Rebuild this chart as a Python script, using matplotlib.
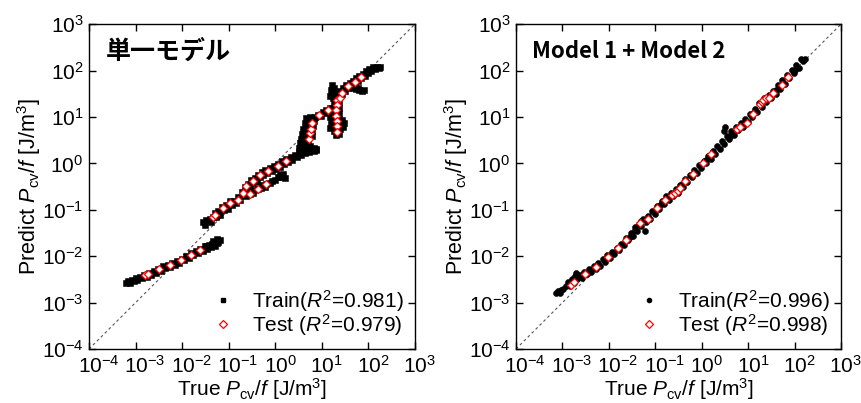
import numpy as np
import matplotlib
matplotlib.use("Agg")
import matplotlib.pyplot as plt
from matplotlib.lines import Line2D
from matplotlib.ticker import LogLocator, NullLocator
from matplotlib.transforms import ScaledTranslation

plt.rcParams['font.family'] = ['Liberation Sans', 'Noto Sans CJK JP']
plt.rcParams['mathtext.fontset'] = 'custom'
plt.rcParams['mathtext.rm'] = 'Liberation Sans'
plt.rcParams['mathtext.it'] = 'Liberation Sans:italic'
plt.rcParams['mathtext.bf'] = 'Liberation Sans:bold'
plt.rcParams['axes.unicode_minus'] = False

# ---------------------------------------------------------------------------
# data as (log10 true, log10 predict) pairs
# ---------------------------------------------------------------------------

# left panel (single model), train points: low band
left_train_low = [
    (-3.20, -2.57), (-3.16, -2.53), (-3.12, -2.58), (-3.08, -2.51), (-3.04, -2.54),
    (-3.00, -2.48), (-2.96, -2.52), (-2.91, -2.44), (-2.86, -2.48), (-2.81, -2.40),
    (-2.76, -2.44), (-2.71, -2.36), (-2.66, -2.40), (-2.61, -2.32), (-2.56, -2.36),
    (-2.51, -2.28), (-2.46, -2.31), (-2.41, -2.22), (-2.36, -2.26), (-2.31, -2.18),
    (-2.26, -2.23), (-2.21, -2.14), (-2.16, -2.19), (-2.11, -2.10), (-2.06, -2.14),
    (-2.01, -2.05), (-1.96, -2.09), (-1.91, -2.00), (-1.86, -2.03), (-1.81, -1.94),
    (-1.76, -1.98), (-1.71, -1.89), (-1.66, -1.93), (-1.61, -1.84), (-1.56, -1.88),
    (-1.51, -1.79), (-1.47, -1.84), (-1.43, -1.75), (-1.39, -1.80), (-1.35, -1.74),
    (-1.30, -1.77), (-1.26, -1.71), (-1.22, -1.69), (-1.19, -1.65), (-1.30, -1.70),
    (-1.48, -1.79), (-1.34, -1.68), (-1.26, -1.64),
]

# left panel, train points: middle band with its lower branch
left_train_mid = [
    (-1.55, -1.26), (-1.51, -1.33), (-1.48, -1.22), (-1.41, -1.19), (-1.34, -1.15),
    (-1.37, -1.26), (-1.30, -1.06), (-1.27, -1.15), (-1.23, -1.03), (-1.19, -1.11),
    (-1.14, -0.93), (-1.10, -1.01), (-1.05, -0.90), (-1.01, -0.98), (-0.97, -0.81),
    (-0.93, -0.90), (-0.88, -0.80), (-0.84, -0.86), (-0.80, -0.73), (-0.76, -0.78),
    (-0.72, -0.62), (-0.69, -0.68), (-0.65, -0.50), (-0.62, -0.56), (-0.58, -0.44),
    (-0.55, -0.50), (-0.51, -0.36), (-0.48, -0.42), (-0.44, -0.31), (-0.40, -0.37),
    (-0.36, -0.24), (-0.33, -0.30), (-0.29, -0.19), (-0.26, -0.26), (-0.21, -0.14),
    (-0.17, -0.21), (-0.12, -0.10), (-0.08, -0.16), (-0.03, -0.06), (0.01, -0.12),
    (0.06, -0.01), (0.10, -0.07), (0.15, 0.05), (0.19, -0.02), (0.24, 0.10),
    (0.28, 0.03), (0.33, 0.14), (0.37, 0.08), (0.42, 0.19), (0.46, 0.13),
    (0.51, 0.25), (0.55, 0.17), (0.60, 0.29), (0.64, 0.22), (0.69, 0.31),
    (0.73, 0.25), (0.78, 0.32), (0.83, 0.26), (0.87, 0.29),
    # lower branch
    (-0.69, -0.65), (-0.62, -0.70), (-0.55, -0.66), (-0.48, -0.63), (-0.37, -0.56),
    (-0.30, -0.52), (-0.19, -0.45), (-0.12, -0.42), (-0.01, -0.36), (0.15, -0.29),
    (0.17, -0.22), (0.20, -0.32), (-0.60, -0.60), (-0.45, -0.58), (-0.33, -0.47),
    (-0.22, -0.50), (-0.08, -0.38), (0.05, -0.30), (0.10, -0.25),
]

# left panel, train points: steep rise, vertical drop and upper band
left_train_high = [
    (0.52, 0.33), (0.57, 0.38), (0.54, 0.44), (0.60, 0.48), (0.56, 0.53),
    (0.62, 0.58), (0.58, 0.63), (0.64, 0.68), (0.60, 0.74), (0.66, 0.80),
    (0.63, 0.86), (0.69, 0.91), (0.67, 0.97), (0.74, 1.00), (0.78, 0.58),
    (0.80, 0.70), (0.82, 0.80), (0.84, 0.92), (0.86, 1.00), (0.71, 0.44),
    (0.75, 0.37), (0.84, 0.33), (0.88, 0.30), (0.68, 0.52), (0.70, 0.62),
    (0.92, 1.05), (0.98, 1.02), (1.02, 1.10), (1.06, 1.08), (1.10, 1.15),
    (1.14, 1.12), (1.18, 1.19), (1.22, 1.16),
    # vertical drop near 20
    (1.24, 1.40), (1.27, 1.30), (1.25, 1.20), (1.27, 1.10), (1.25, 1.00),
    (1.27, 0.90), (1.25, 0.80), (1.27, 0.70), (1.38, 1.32), (1.37, 1.20),
    (1.38, 1.08), (1.37, 0.96), (1.38, 0.85), (1.40, 0.74), (1.36, 0.64),
    (1.45, 0.78), (1.47, 0.86), (1.44, 0.94), (1.18, 0.76), (1.20, 0.88),
    (1.17, 1.00), (1.21, 1.08), (1.30, 0.62), (1.34, 0.66),
    (1.18, 1.45), (1.20, 1.58), (1.22, 1.70), (1.26, 1.62), (1.28, 1.52),
    (1.30, 1.42), (1.24, 1.50),
    # upper band
    (1.34, 1.50), (1.37, 1.44), (1.40, 1.56), (1.43, 1.50), (1.46, 1.62),
    (1.50, 1.56), (1.53, 1.68), (1.57, 1.62), (1.60, 1.74), (1.64, 1.68),
    (1.67, 1.78), (1.71, 1.73), (1.74, 1.83), (1.78, 1.78), (1.81, 1.88),
    (1.85, 1.83), (1.88, 1.93), (1.92, 1.88), (1.95, 1.99), (1.99, 1.94),
    (2.02, 2.04), (2.06, 2.00), (2.10, 2.08), (2.14, 2.03), (2.18, 2.08),
    (2.22, 2.05), (2.25, 2.07),
    (1.68, 1.62), (1.74, 1.60), (1.80, 1.58), (1.86, 1.57), (1.90, 1.59),
    (1.78, 1.63),
]

left_test = [
    (-2.80, -2.41), (-2.73, -2.38), (-2.50, -2.28), (-2.27, -2.20), (-2.02, -2.08),
    (-1.80, -1.98), (-1.62, -1.87),
    (-1.34, -1.15), (-1.30, -1.11), (-1.12, -0.97), (-0.98, -0.86), (-0.80, -0.78),
    (-0.62, -0.49), (-0.48, -0.37), (-0.33, -0.25), (-0.15, -0.16), (0.06, -0.06),
    (0.24, 0.06),
    (-0.69, -0.63), (-0.55, -0.66), (-0.37, -0.56), (-0.19, -0.45),
    (0.73, 0.52), (0.74, 0.65), (0.76, 0.75), (0.80, 0.86), (0.94, 1.04),
    (1.14, 1.15),
    (1.32, 1.36), (1.32, 1.25), (1.31, 1.14), (1.31, 1.03), (1.32, 0.92),
    (1.32, 0.81), (1.32, 0.68), (1.39, 1.40), (1.44, 1.52), (1.57, 1.66),
    (1.71, 1.76), (1.85, 1.87),
]

# right panel (Model 1 + Model 2)
right_train = [
    (-3.14, -2.80), (-3.10, -2.74), (-3.06, -2.79), (-3.02, -2.72), (-2.98, -2.70),
    (-2.93, -2.64), (-2.88, -2.56), (-2.84, -2.65), (-2.80, -2.50), (-2.76, -2.58),
    (-2.72, -2.43), (-2.68, -2.50), (-2.63, -2.40), (-2.58, -2.46), (-2.53, -2.33),
    (-2.48, -2.38), (-2.43, -2.28), (-2.38, -2.33), (-2.33, -2.22), (-2.28, -2.28),
    (-2.23, -2.15), (-2.18, -2.21), (-2.13, -2.06), (-2.08, -2.12), (-2.03, -1.98),
    (-1.98, -2.03), (-1.93, -1.90), (-1.88, -1.95), (-1.83, -1.82), (-1.78, -1.87),
    (-1.73, -1.73), (-1.68, -1.76), (-1.63, -1.61), (-1.58, -1.66), (-1.53, -1.50),
    (-1.48, -1.56), (-1.43, -1.38), (-1.40, -1.46), (-1.36, -1.30), (-1.31, -1.36),
    (-1.26, -1.20), (-1.22, -1.45), (-1.21, -1.27), (-1.16, -1.13), (-1.11, -1.19),
    (-1.06, -1.03), (-1.01, -1.08), (-0.96, -0.92), (-0.91, -0.98), (-0.86, -0.82),
    (-0.81, -0.87), (-0.76, -0.71), (-0.71, -0.78), (-0.66, -0.64), (-0.61, -0.70),
    (-0.56, -0.56), (-0.51, -0.63), (-0.46, -0.46), (-0.41, -0.51), (-0.36, -0.34),
    (-0.31, -0.40), (-0.26, -0.24), (-0.21, -0.30), (-0.16, -0.14), (-0.11, -0.20),
    (-0.06, -0.04), (-0.01, -0.09), (0.04, 0.06), (0.09, 0.00), (0.14, 0.16),
    (0.19, 0.10), (0.24, 0.27), (0.29, 0.21), (0.34, 0.37), (0.39, 0.31),
    (0.44, 0.48), (0.49, 0.42), (0.50, 0.79), (0.47, 0.70), (0.54, 0.59),
    (0.59, 0.53), (0.64, 0.69), (0.69, 0.62), (0.74, 0.78), (0.79, 0.71),
    (0.84, 0.86), (0.89, 0.79), (0.94, 0.95), (0.99, 0.89), (1.04, 1.07),
    (1.09, 1.00), (1.14, 1.17), (1.19, 1.11), (1.24, 1.30), (1.29, 1.22),
    (1.34, 1.40), (1.39, 1.33), (1.44, 1.47), (1.49, 1.41), (1.54, 1.56),
    (1.59, 1.50), (1.64, 1.68), (1.69, 1.61), (1.74, 1.79), (1.79, 1.71),
    (1.84, 1.90), (1.89, 1.83), (1.94, 2.01), (1.99, 1.95), (2.04, 2.12),
    (2.09, 2.06), (2.14, 2.24), (2.19, 2.20), (2.23, 2.25),
    (-1.44, -1.44), (-2.70, -2.37), (-1.55, -1.58), (-1.30, -1.25),
    (-0.90, -0.90), (-0.40, -0.42), (0.10, 0.08), (0.60, 0.60), (1.10, 1.08),
    (1.60, 1.58), (2.00, 2.02),
]

right_test = [
    (-2.81, -2.62), (-2.74, -2.55), (-2.52, -2.38), (-2.27, -2.23), (-2.02, -2.01),
    (-1.80, -1.83), (-1.62, -1.65), (-1.33, -1.28), (-1.15, -1.19), (-0.97, -0.97),
    (-0.79, -0.79), (-0.65, -0.68), (-0.58, -0.63), (-0.51, -0.59), (-0.47, -0.52),
    (-0.36, -0.37), (-0.18, -0.22), (0.03, 0.00), (0.21, 0.20), (0.75, 0.75),
    (0.82, 0.79), (0.97, 0.88), (1.11, 1.06), (1.26, 1.27), (1.30, 1.32),
    (1.33, 1.36), (1.38, 1.40), (1.44, 1.41), (1.54, 1.51), (1.72, 1.70),
    (1.85, 1.87),
]

left_title = "単一モデル"
right_title = "Model 1 + Model 2"
left_r2 = ("0.981", "0.979")
right_r2 = ("0.996", "0.998")


def to_xy(pairs):
    arr = np.power(10.0, np.array(pairs))
    return arr[:, 0], arr[:, 1]


def setup_axes(ax):
    ax.set_xscale("log")
    ax.set_yscale("log")
    ax.set_xlim(1e-4, 1e3)
    ax.set_ylim(1e-4, 1e3)
    for axis in (ax.xaxis, ax.yaxis):
        axis.set_major_locator(LogLocator(base=10, numticks=20))
        axis.set_minor_locator(NullLocator())
    ax.plot([1e-4, 1e3], [1e-4, 1e3], ls=(0, (2.5, 2.5)), color="#555555",
            lw=0.8, zorder=1)
    ax.tick_params(which="major", direction="in", top=True, right=True,
                   length=5, width=1, labelsize=15, pad=4)
    for s in ax.spines.values():
        s.set_linewidth(1.0)
    ax.set_xlabel(r"True $P_{\rm cv}/f$ [J/m$^3$]", fontsize=15, labelpad=-0.5)
    ax.set_ylabel(r"Predict $P_{\rm cv}/f$ [J/m$^3$]", fontsize=15.5, labelpad=-1)
    # centre the "10" of each x label on its tick, exponent hanging to the right
    shift = ScaledTranslation(-8.3 / 72, 0, fig.dpi_scale_trans)
    for lab in ax.get_xticklabels():
        lab.set_horizontalalignment("left")
        lab.set_transform(lab.get_transform() + shift)


fig = plt.figure(figsize=(8.62, 4.03), dpi=100)
ax1 = fig.add_axes([0.1033, 0.134, 0.378, 0.806])
ax2 = fig.add_axes([0.5986, 0.134, 0.377, 0.806])

panels = [
    (ax1, [left_train_low, left_train_mid, left_train_high], left_test,
     left_title, 18, left_r2, "s", 3.8),
    (ax2, [right_train], right_test, right_title, 16, right_r2, "o", 4.3),
]

for ax, train_sets, test, title, tsize, r2, tmark, tms in panels:
    setup_axes(ax)
    for tr in train_sets:
        x, y = to_xy(tr)
        ax.plot(x, y, ls="none", marker=tmark, ms=tms, mfc="black", mec="black",
                mew=0.4, zorder=2)
    x, y = to_xy(test)
    ax.plot(x, y, ls="none", marker="D", ms=3.8, mfc="white", mec="red",
            mew=0.9, zorder=3)
    ax.text(0.05, 0.915, title, transform=ax.transAxes, fontsize=tsize,
            fontweight="bold", va="center", ha="left",
            family=["Noto Sans CJK JP", "DejaVu Sans"])
    handles = [
        Line2D([], [], ls="none", marker=tmark, ms=3.0, mfc="black", mec="black"),
        Line2D([], [], ls="none", marker="D", ms=4.0, mfc="white", mec="red", mew=0.9),
    ]
    labels = ["Train($R^2$=%s)" % r2[0], "Test ($R^2$=%s)" % r2[1]]
    ax.legend(handles, labels, loc="lower right", frameon=False, fontsize=15,
              handlelength=1.0, handletextpad=0.9, labelspacing=-0.1,
              borderpad=0.0, borderaxespad=0.0, bbox_to_anchor=(0.965, 0.035))

fig.savefig("out.png", dpi=100)
